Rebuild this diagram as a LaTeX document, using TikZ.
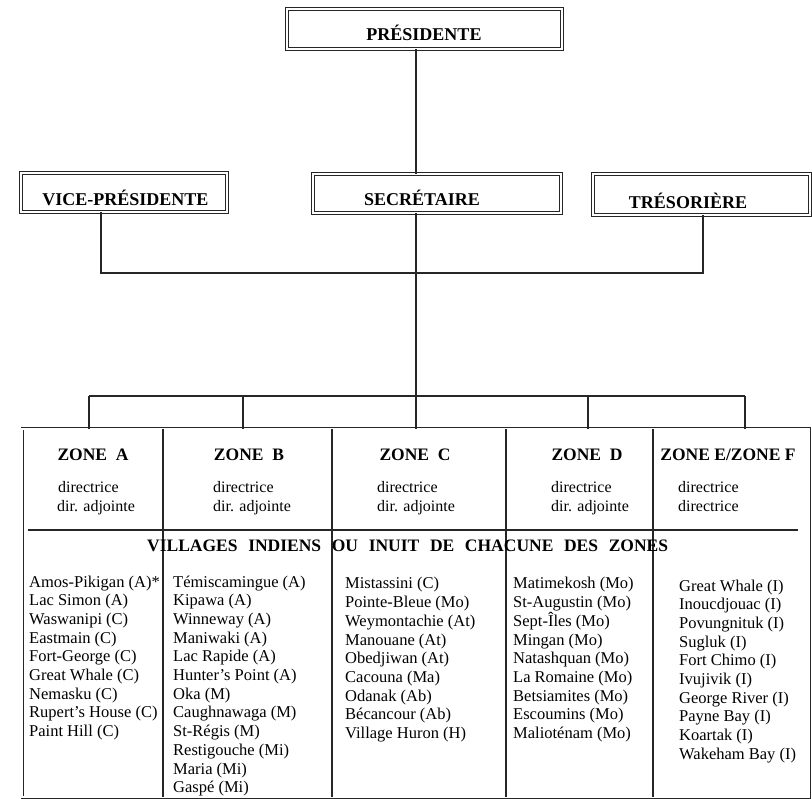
\documentclass[tikz,border=0pt]{standalone}
\usepackage{fontspec}
\setmainfont{Liberation Serif}
\begin{document}
\begin{tikzpicture}[x=1pt,y=-1pt,
  ln/.style={line width=1.1pt, draw=black!85},
  dbox/.style={draw=black!85, double=white, double distance=1.6pt, line width=0.9pt, inner sep=0pt},
  ttl/.style={font=\bfseries\fontsize{18}{20}\selectfont, anchor=base, inner sep=0pt},
  zh/.style={font=\bfseries\fontsize{17.5}{19}\selectfont, anchor=base, inner sep=0pt},
  sm/.style={font=\fontsize{16}{18}\selectfont, anchor=base west, inner sep=0pt},
  li/.style={font=\fontsize{16.5}{18.7}\selectfont, anchor=base west, inner sep=0pt}]
\useasboundingbox (0,0) rectangle (812,799);

% top boxes
\node[dbox, minimum width=275, minimum height=40] (pres) at (424.5,29) {};
\node[ttl] (prest) at (424,41) {PRÉSIDENTE};
\node[dbox, minimum width=206, minimum height=39] (vp) at (124,192.5) {};
\node[ttl] (vpt) at (125.5,206) {VICE-PRÉSIDENTE};
\node[dbox, minimum width=248, minimum height=39] (sec) at (437,193.5) {};
\node[ttl] (sect) at (422,206) {SECRÉTAIRE};
\node[dbox, minimum width=217, minimum height=41] (tres) at (701.5,194.5) {};
\node[ttl] (trest) at (688,209) {TRÉSORIÈRE};

% table frame
\node[draw=black!85, double=white, double distance=1.2pt, line width=0.9pt, minimum width=787, minimum height=368, inner sep=0pt] (tbl) at (415.5,613) {};

% connectors
\coordinate (spine) at (416,0);
\draw[ln] (pres.south -| spine) -- (sec.north -| spine);
\draw[ln] (sec.south -| spine) -- (tbl.north -| spine);
\coordinate (hb) at (0,273);
\coordinate (vpx) at (101,0);
\coordinate (trx) at (703,0);
\draw[ln] (vp.south -| vpx) -- (hb -| vpx) -- (hb -| trx) -- (tres.south -| trx);

\coordinate (bA) at (89,396);
\coordinate (bB) at (243,396);
\coordinate (bD) at (588,396);
\coordinate (bE) at (745,396);
\draw[ln] (bA) -- (bE);
\foreach \n in {bA,bB,bD,bE} \draw[ln] (\n) -- (\n |- tbl.north);

% column separators
\foreach \x/\n in {163/s1,332/s2,506/s3,653/s4}{
  \coordinate (\n) at (\x,0);
  \draw[ln] (tbl.north -| \n) -- (tbl.south -| \n);
}
\coordinate (hl) at (28,530);
\coordinate (hr) at (798,530);
\draw[ln] (hl) -- (hr);

% zone headers
\node[zh] (zA) at (93,461) {ZONE\ \ A};
\node[zh] (zB) at (249,461) {ZONE\ \ B};
\node[zh] (zC) at (415,461) {ZONE\ \ C};
\node[zh] (zD) at (587,461) {ZONE\ \ D};
\node[zh] (zE) at (728,461) {ZONE E/ZONE F};

\node[sm] (dA1) at (58,493) {directrice};
\node[sm] (dA2) at (57,512) {dir. adjointe};
\node[sm] (dB1) at (213,493) {directrice};
\node[sm] (dB2) at (213,512) {dir. adjointe};
\node[sm] (dC1) at (377,493) {directrice};
\node[sm] (dC2) at (377,512) {dir. adjointe};
\node[sm] (dD1) at (551,493) {directrice};
\node[sm] (dD2) at (551,512) {dir. adjointe};
\node[sm] (dE1) at (678,493) {directrice};
\node[sm] (dE2) at (678,512) {directrice};

\node[zh, anchor=base west] (vil) at (147,552) {\makebox[521pt][s]{VILLAGES INDIENS OU INUIT DE CHACUNE DES ZONES}};

% lists
\foreach \t [count=\i from 0] in {Amos-Pikigan (A)*, Lac Simon (A), Waswanipi (C), Eastmain (C), Fort-George (C), Great Whale (C), Nemasku (C), Rupert's House (C), Paint Hill (C)}
  \node[li] (a\i) at (29,587+\i*18.7) {\t};
\foreach \t [count=\i from 0] in {Témiscamingue (A), Kipawa (A), Winneway (A), Maniwaki (A), Lac Rapide (A), Hunter's Point (A), Oka (M), Caughnawaga (M), St-Régis (M), Restigouche (Mi), Maria (Mi), Gaspé (Mi)}
  \node[li] (b\i) at (173,587+\i*18.7) {\t};
\foreach \t [count=\i from 0] in {Mistassini (C), Pointe-Bleue (Mo), Weymontachie (At), Manouane (At), Obedjiwan (At), Cacouna (Ma), Odanak (Ab), Bécancour (Ab), Village Huron (H)}
  \node[li] (c\i) at (345,589+\i*18.7) {\t};
\foreach \t [count=\i from 0] in {Matimekosh (Mo), St-Augustin (Mo), Sept-Îles (Mo), Mingan (Mo), Natashquan (Mo), La Romaine (Mo), Betsiamites (Mo), Escoumins (Mo), Malioténam (Mo)}
  \node[li] (d\i) at (513,589+\i*18.7) {\t};
\foreach \t [count=\i from 0] in {Great Whale (I), Inoucdjouac (I), Povungnituk (I), Sugluk (I), Fort Chimo (I), Ivujivik (I), George River (I), Payne Bay (I), Koartak (I), Wakeham Bay (I)}
  \node[li] (e\i) at (679,591+\i*18.7) {\t};
\end{tikzpicture}
\end{document}
